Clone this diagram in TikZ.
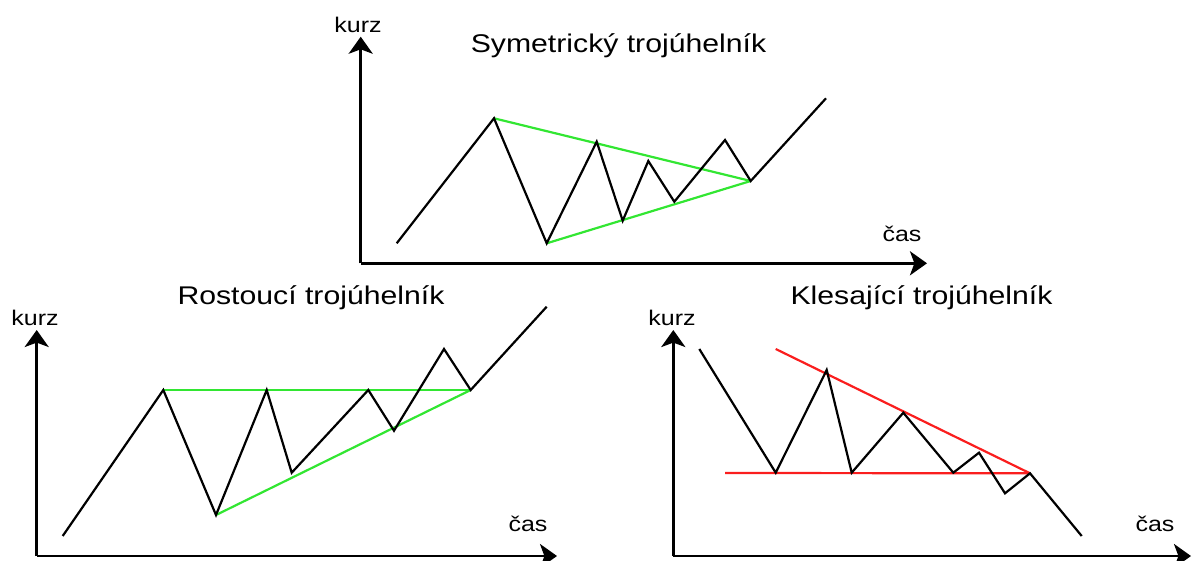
\documentclass[tikz,border=0pt]{standalone}
\usepackage{fontspec}
\setmainfont{Liberation Sans}
\newfontfamily\wfont[FakeStretch=1.18]{Liberation Sans}
\usetikzlibrary{arrows.meta}
\definecolor{gline}{RGB}{50,230,50}
\definecolor{rline}{RGB}{250,30,30}
\tikzset{
  axis/.style={line width=1.4pt, -{Stealth[length=8.5pt,width=12pt,inset=2.2pt]}},
  price/.style={line width=1.1pt, black, line join=miter},
  gtrend/.style={line width=1.1pt, gline},
  rtrend/.style={line width=1.1pt, rline},
  ttl/.style={anchor=base, inner sep=0pt, font=\wfont\fontsize{12.8}{14}\selectfont},
  lbl/.style={anchor=base, inner sep=0pt, font=\wfont\fontsize{10.6}{12}\selectfont},
}
\begin{document}
\begin{tikzpicture}[x=0.5pt,y=-0.5pt]
\useasboundingbox (0,0) rectangle (1197,561);
% ---------- top: symmetric ----------
\coordinate (To) at (360.7,263.3);
\coordinate (Ty) at (360.7,36.7);
\coordinate (Tx) at (927,263.3);
\draw[axis] (To) -- (Ty);
\draw[axis] (To) -- (Tx);
\node[lbl] (Tkurz) at (358,33) {kurz};
\node[lbl] (Tcas) at (902,241.5) {čas};
\node[ttl] (Ttitle) at (618.5,53) {Symetrický trojúhelník};
\coordinate (T1) at (396.7,243.3);
\coordinate (T2) at (494,118.3);
\coordinate (T3) at (546.7,243.3);
\coordinate (T4) at (596.7,141.7);
\coordinate (T5) at (622.7,220.7);
\coordinate (T6) at (648.3,161);
\coordinate (T7) at (674.3,201.7);
\coordinate (T8) at (725,140);
\coordinate (T9) at (750.7,181);
\coordinate (T10) at (826,98.3);
\draw[gtrend] (T2) -- (T9);
\draw[gtrend] (T3) -- (T9);
\draw[price] (T1) -- (T2) -- (T3) -- (T4) -- (T5) -- (T6) -- (T7) -- (T8) -- (T9) -- (T10);
% ---------- bottom left: ascending ----------
\coordinate (Ao) at (36.7,556);
\coordinate (Ay) at (36.7,330);
\coordinate (Ax) at (557,556);
\draw[axis] (Ao) -- (Ay);
\draw[axis] (Ao) -- (Ax);
\node[lbl] (Akurz) at (35,325) {kurz};
\node[lbl] (Acas) at (528,531.5) {čas};
\node[ttl] (Atitle) at (311,304) {Rostoucí trojúhelník};
\coordinate (A1) at (62.7,536);
\coordinate (A2) at (163.3,390);
\coordinate (A3) at (216,515);
\coordinate (A4) at (266.7,390);
\coordinate (A5) at (291.7,472.7);
\coordinate (A6) at (368.3,390);
\coordinate (A7) at (394,430.7);
\coordinate (A8) at (444,349);
\coordinate (A9) at (470.7,390);
\coordinate (A10) at (546.7,306.7);
\draw[gtrend] (A2) -- (A9);
\draw[gtrend] (A3) -- (A9);
\draw[price] (A1) -- (A2) -- (A3) -- (A4) -- (A5) -- (A6) -- (A7) -- (A8) -- (A9) -- (A10);
% ---------- bottom right: descending ----------
\coordinate (Do) at (673.3,556);
\coordinate (Dy) at (673.3,330);
\coordinate (Dx) at (1191,556);
\draw[axis] (Do) -- (Dy);
\draw[axis] (Do) -- (Dx);
\node[lbl] (Dkurz) at (672,325) {kurz};
\node[lbl] (Dcas) at (1155,531.5) {čas};
\node[ttl] (Dtitle) at (921.5,304) {Klesající trojúhelník};
\coordinate (D1) at (699.3,349);
\coordinate (D2) at (775.7,472.7);
\coordinate (D3) at (826.7,370);
\coordinate (D4) at (851.7,472.7);
\coordinate (D5) at (903.3,412.7);
\coordinate (D6) at (953.3,472.7);
\coordinate (D7) at (979,452.7);
\coordinate (D8) at (1005,493.3);
\coordinate (D9) at (1030,473.3);
\coordinate (D10) at (1081.7,536);
\coordinate (Rh) at (725,473);
\coordinate (Rd) at (775.7,349);
\draw[rtrend] (Rh) -- (D9);
\draw[rtrend] (Rd) -- (D9);
\draw[price] (D1) -- (D2) -- (D3) -- (D4) -- (D5) -- (D6) -- (D7) -- (D8) -- (D9) -- (D10);
\end{tikzpicture}
\end{document}
